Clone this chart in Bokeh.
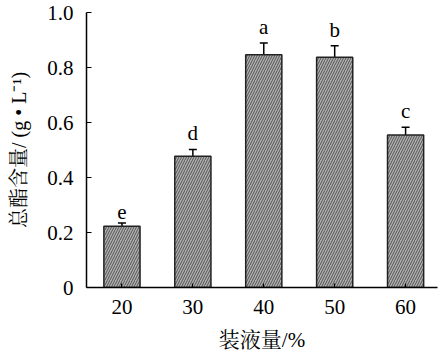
from bokeh.plotting import figure
from bokeh.models import Range1d, FixedTicker, Whisker, ColumnDataSource, LabelSet
from bokeh.embed import file_html
from bokeh.resources import INLINE

categories = ["20", "30", "40", "50", "60"]
values = [0.223, 0.477, 0.846, 0.837, 0.555]
errors = [0.012, 0.025, 0.043, 0.042, 0.028]
letters = ["e", "d", "a", "b", "c"]
y_ticks = [0, 0.2, 0.4, 0.6, 0.8, 1.0]
y_tick_labels = ["0", "0.2", "0.4", "0.6", "0.8", "1.0"]

x_pos = [i + 1 for i in range(len(categories))]
src = ColumnDataSource(dict(
    x=x_pos, top=values,
    upper=[v + e for v, e in zip(values, errors)],
    lower=[v - e for v, e in zip(values, errors)],
    lab=letters,
))

SERIF = "Liberation Serif, Noto Serif CJK SC, Noto Sans CJK SC"

p = figure(width=440, height=355, output_backend="svg", toolbar_location=None,
           x_range=Range1d(0.5, 5.45), y_range=Range1d(0, 1.0),
           min_border_left=86, min_border_right=3, min_border_top=12, min_border_bottom=68)
p.outline_line_color = None
p.xgrid.grid_line_color = None
p.ygrid.grid_line_color = None

p.vbar(x="x", top="top", width=0.51, source=src, fill_color="#b0b0b0",
       line_color="#222222", line_width=1.5,
       hatch_pattern="/", hatch_color="#3a3a3a", hatch_scale=5, hatch_weight=0.8)

w = Whisker(source=src, base="x", upper="upper", lower="lower",
            line_color="black", line_width=1.5)
w.upper_head.size = 8
w.lower_head.size = 8
w.upper_head.line_width = 1.5
w.lower_head.line_width = 1.5
p.add_layout(w)

p.add_layout(LabelSet(x="x", y="upper", text="lab", source=src, text_align="center",
                      text_baseline="bottom", y_offset=4, text_font="Liberation Serif",
                      text_font_size="21px", text_color="black"))

p.xaxis.ticker = FixedTicker(ticks=x_pos)
p.xaxis.major_label_overrides = {x: c for x, c in zip(x_pos, categories)}
p.yaxis.ticker = FixedTicker(ticks=y_ticks)
p.yaxis.major_label_overrides = {t: l for t, l in zip(y_ticks, y_tick_labels)}

for ax in (p.xaxis[0], p.yaxis[0]):
    ax.axis_line_color = "black"
    ax.axis_line_width = 1.5
    ax.major_tick_line_color = "black"
    ax.major_tick_line_width = 1.2
    ax.major_tick_in = 5
    ax.major_tick_out = 0
    ax.minor_tick_line_color = None
    ax.major_label_text_font = "Liberation Serif"
    ax.major_label_text_font_size = "21px"
    ax.major_label_text_font_style = "normal"
    ax.major_label_text_color = "black"
    ax.axis_label_text_font = SERIF
    ax.axis_label_text_font_size = "20px"
    ax.axis_label_text_font_style = "normal"
    ax.axis_label_text_color = "black"

p.xaxis.major_tick_in = 4
p.xaxis.major_label_standoff = 12
p.xaxis.axis_label = "装液量/%"
p.xaxis.axis_label_text_font_size = "21px"
p.xaxis.axis_label_standoff = 11
p.yaxis.major_label_standoff = 13
p.yaxis.axis_label = "总酯含量/ (g • L⁻¹)"
p.yaxis.axis_label_standoff = 14

open("out.html", "w").write(file_html(p, INLINE))
